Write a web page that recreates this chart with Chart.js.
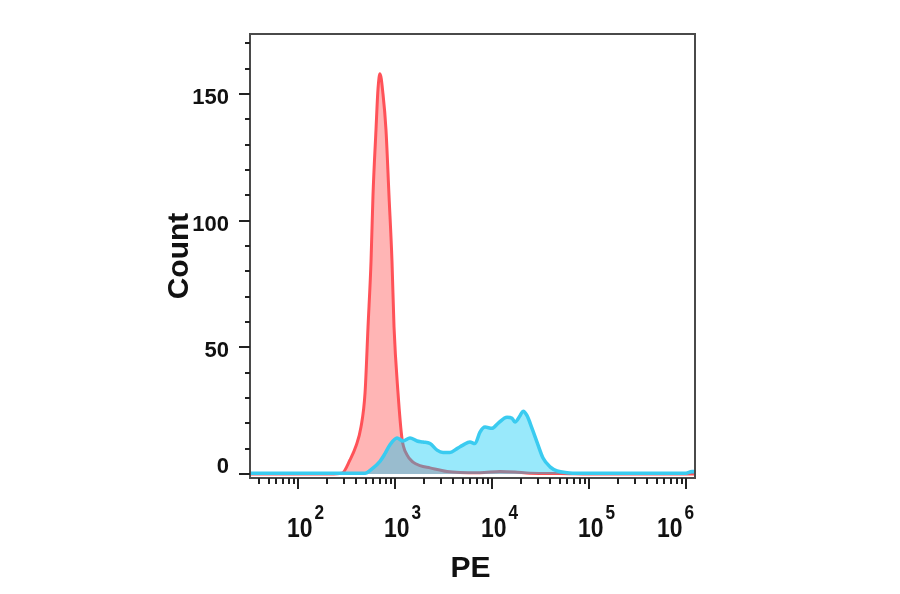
<!DOCTYPE html>
<html>
<head>
<meta charset="utf-8">
<script src="https://cdn.jsdelivr.net/npm/chart.js@4"></script>
<style>
  html, body { margin: 0; padding: 0; background: #fff; }
  #wrap { width: 900px; height: 594px; }
</style>
</head>
<body>
<div id="wrap"><canvas id="chart"></canvas></div>
<script>
// red histogram (control) - PE value / count
const peRed = [32, 214, 284, 343, 396, 446, 491, 527, 566, 593, 637, 668, 700, 752, 807, 867, 931, 977, 1074, 1180, 1330, 1533, 1811, 2296, 3436, 4677, 7516, 12080, 17250, 24660, 50230, 102300, 1238000];
const countRed = [0, 0, 0.3, 5.5, 11, 18.5, 32, 58, 84, 110, 136, 152, 158, 150, 136, 110, 84, 58, 32, 14, 7.5, 4.7, 3.3, 2.4, 1.0, 0.6, 0.5, 1.0, 0.8, 0.3, 0.2, 0, 0];

// blue histogram (stained sample)
const peBlue = [32, 491, 579, 700, 788, 888, 1049, 1208, 1428, 1687, 1945, 2296, 2712, 3126, 3690, 4357, 5022, 5930, 6677, 7516, 8470, 10000, 11530, 14280, 16080, 17260, 19450, 20890, 22970, 25850, 29100, 33560, 39630, 46780, 59290, 80690, 1000000, 1150000, 1238000];
const countBlue = [0.3, 0.3, 2, 5, 8, 11.5, 14.2, 13, 14.2, 13, 12.6, 12, 9.4, 8.5, 8.5, 10, 11.4, 12.6, 12, 16.5, 18.5, 18, 20, 22.4, 22, 20.5, 23, 24.8, 23, 18, 12.6, 6.3, 2.8, 1.2, 0.5, 0.3, 0.3, 1, 1];

// axes
const yTickValues = [0, 50, 100, 150];
const yTickLabels = ['0', '50', '100', '150'];
const yMinorTicks = [10, 20, 30, 40, 60, 70, 80, 90, 110, 120, 130, 140, 160, 170];
const xDecades = [100, 1000, 10000, 100000, 1000000];
const xExponents = ['2', '3', '4', '5', '6'];
const xTitle = 'PE';
const yTitle = 'Count';

const xMin = 32, xMax = 1238000;
const yMin = -1.6, yMax = 173.7;

function toPoints(xs, ys) {
  return xs.map((x, i) => ({ x: x, y: ys[i] }));
}

// frame, ticks and labels drawn with the chart's own scales
const axisPlugin = {
  id: 'flowAxes',
  afterDraw(chart) {
    const ctx = chart.ctx;
    const a = chart.chartArea;
    const xs = chart.scales.x;
    const ys = chart.scales.y;
    ctx.save();

    ctx.strokeStyle = '#4a4a4a';
    ctx.lineWidth = 2;
    ctx.strokeRect(a.left, a.top, a.right - a.left, a.bottom - a.top);

    // y ticks
    ctx.strokeStyle = '#222';
    ctx.beginPath();
    yTickValues.forEach(v => {
      const p = Math.round(ys.getPixelForValue(v));
      ctx.moveTo(a.left - 11, p); ctx.lineTo(a.left, p);
    });
    yMinorTicks.forEach(v => {
      const p = Math.round(ys.getPixelForValue(v));
      ctx.moveTo(a.left - 5, p); ctx.lineTo(a.left, p);
    });
    // x ticks
    xDecades.forEach(d => {
      const p = Math.round(xs.getPixelForValue(d));
      ctx.moveTo(p, a.bottom); ctx.lineTo(p, a.bottom + 11);
    });
    [10, 100, 1000, 10000, 100000, 1000000].forEach(d => {
      for (let k = 2; k <= 9; k++) {
        const v = d * k;
        if (v < xMin || v > xMax) continue;
        const p = Math.round(xs.getPixelForValue(v));
        ctx.moveTo(p, a.bottom); ctx.lineTo(p, a.bottom + 6);
      }
    });
    ctx.stroke();

    ctx.fillStyle = '#111';
    // y labels
    ctx.font = 'bold 22px "Liberation Sans", Arial, sans-serif';
    ctx.textAlign = 'right';
    ctx.textBaseline = 'middle';
    yTickValues.forEach((v, i) => {
      const p = ys.getPixelForValue(v);
      ctx.fillText(yTickLabels[i], 229, Math.min(p + 4, a.bottom - 11));
    });

    // x labels: 10 with superscript, slightly condensed
    ctx.textAlign = 'left';
    ctx.textBaseline = 'alphabetic';
    const sx = 0.82;
    const bigFont = 'bold 28px "Liberation Sans", Arial, sans-serif';
    const supFont = 'bold 21px "Liberation Sans", Arial, sans-serif';
    xDecades.forEach((d, i) => {
      const p = xs.getPixelForValue(d);
      ctx.font = bigFont;
      const w1 = ctx.measureText('10').width * sx;
      ctx.font = supFont;
      const w2 = ctx.measureText(xExponents[i]).width * sx;
      let left = p - 11;
      const total = w1 + 2 + w2;
      if (left + total > a.right - 1) left = a.right - 1 - total;
      ctx.save();
      ctx.translate(left, 537);
      ctx.scale(sx, 1);
      ctx.font = bigFont;
      ctx.fillText('10', 0, 0);
      ctx.restore();
      ctx.save();
      ctx.translate(left + w1 + 2, 519);
      ctx.scale(sx, 1);
      ctx.font = supFont;
      ctx.fillText(xExponents[i], 0, 0);
      ctx.restore();
    });

    // titles
    ctx.font = 'bold 30px "Liberation Sans", Arial, sans-serif';
    ctx.textAlign = 'center';
    ctx.fillText(xTitle, (a.left + a.right) / 2 - 2, 577);
    ctx.save();
    ctx.translate(188, 256);
    ctx.rotate(-Math.PI / 2);
    ctx.fillText(yTitle, 0, 0);
    ctx.restore();

    ctx.restore();
  }
};

const ctx = document.getElementById('chart').getContext('2d');
new Chart(ctx, {
  type: 'line',
  data: {
    datasets: [
      {
        label: 'sample',
        data: toPoints(peBlue, countBlue),
        borderColor: 'rgb(58, 203, 240)',
        backgroundColor: 'rgba(0, 200, 245, 0.4)',
        borderWidth: 3.5,
        fill: 'origin',
        pointRadius: 0,
        cubicInterpolationMode: 'monotone'
      },
      {
        label: 'control',
        data: toPoints(peRed, countRed),
        borderColor: 'rgb(255, 82, 88)',
        backgroundColor: 'rgba(255, 90, 90, 0.45)',
        borderWidth: 3,
        fill: 'origin',
        pointRadius: 0,
        cubicInterpolationMode: 'monotone'
      }
    ]
  },
  options: {
    responsive: true,
    maintainAspectRatio: false,
    animation: false,
    layout: { padding: { left: 250, right: 205, top: 34, bottom: 116 } },
    plugins: { legend: { display: false }, tooltip: { enabled: false } },
    scales: {
      x: { type: 'logarithmic', min: xMin, max: xMax, display: false },
      y: { type: 'linear', min: yMin, max: yMax, display: false }
    }
  },
  plugins: [axisPlugin]
});
</script>
</body>
</html>
